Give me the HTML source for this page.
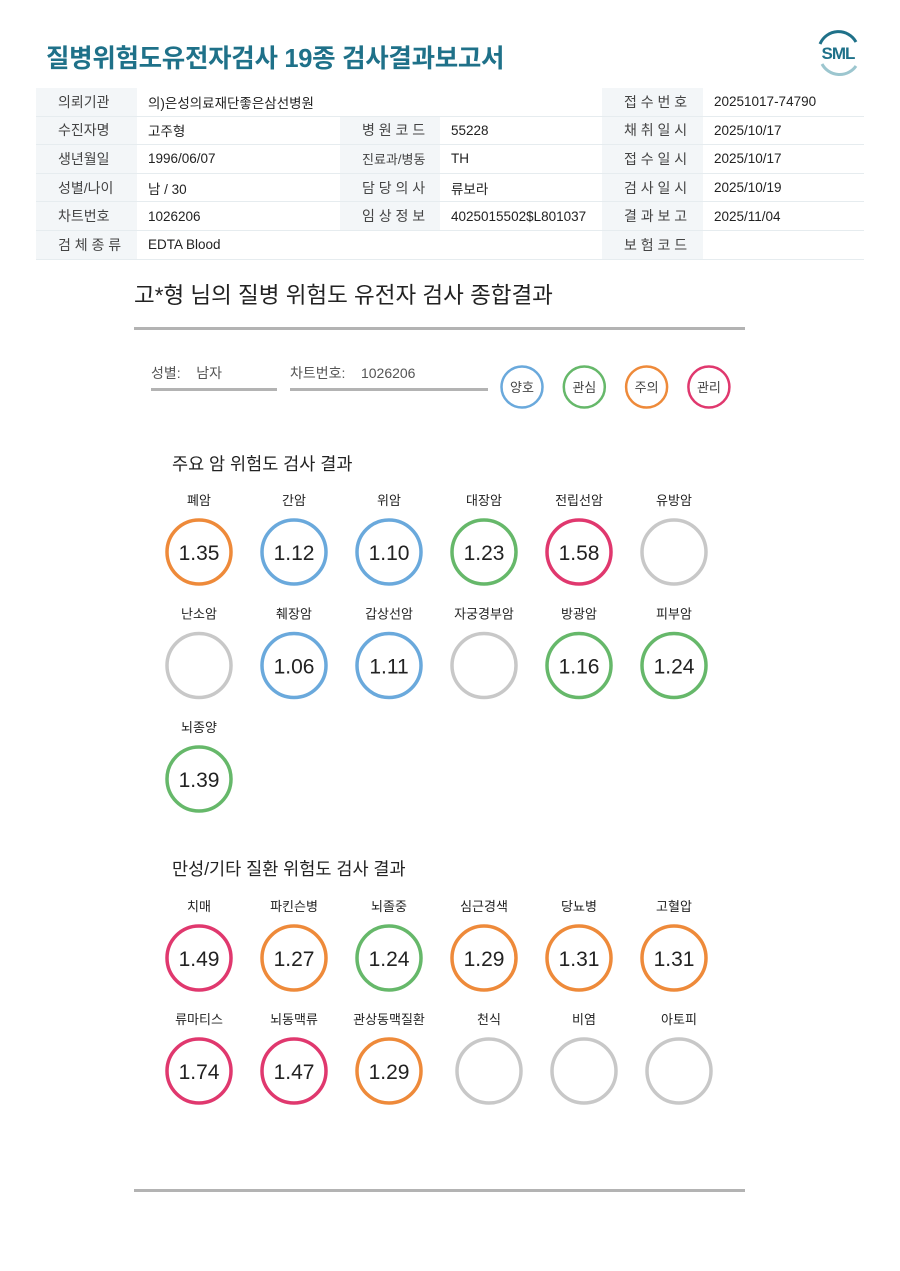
<!DOCTYPE html>
<html><head><meta charset="utf-8">
<style>
body{margin:0;width:900px;height:1271px;background:#fff;font-family:"Liberation Sans","Noto Sans CJK KR",sans-serif;position:relative;overflow:hidden}
.abs{position:absolute}
table{position:absolute;left:36px;top:88px;width:828px;border-collapse:collapse;font-size:13.5px;color:#222}
td{height:27.6px;padding:0;border-bottom:1px solid #e6ecef}
td.l{background:#f3f6f8;color:#444;padding-left:22px;font-size:14px}
td.v{padding-left:11px}
</style></head><body>
<div class="abs" style="left:46px;top:38px;font-size:25.5px;font-weight:bold;color:#1f7189;letter-spacing:-0.3px">질병위험도유전자검사 19종 검사결과보고서</div>
<svg class="abs" style="left:812px;top:28px" width="52" height="50">
<path d="M8 16 A20 20 0 0 1 44 14" fill="none" stroke="#1f7189" stroke-width="3"/>
<path d="M10 36 A20 20 0 0 0 44 38" fill="none" stroke="#9cc6cf" stroke-width="3"/>
<text x="26" y="31" text-anchor="middle" font-size="17" font-weight="bold" fill="#1f7189" font-family="Liberation Sans" letter-spacing="-1">SML</text></svg>
<table>
<tr><td class="l" style="width:79px">의뢰기관</td><td class="v" colspan="3">의)은성의료재단좋은삼선병원</td><td class="l" style="width:79px">접 수 번 호</td><td class="v">20251017-74790</td></tr>
<tr><td class="l">수진자명</td><td class="v" style="width:192px">고주형</td><td class="l" style="width:78px">병 원 코 드</td><td class="v" style="width:151px">55228</td><td class="l">채 취 일 시</td><td class="v">2025/10/17</td></tr>
<tr><td class="l">생년월일</td><td class="v">1996/06/07</td><td class="l" style="font-size:13px">진료과/병동</td><td class="v">TH</td><td class="l">접 수 일 시</td><td class="v">2025/10/17</td></tr>
<tr><td class="l">성별/나이</td><td class="v">남 / 30</td><td class="l">담 당 의 사</td><td class="v">류보라</td><td class="l">검 사 일 시</td><td class="v">2025/10/19</td></tr>
<tr><td class="l">차트번호</td><td class="v">1026206</td><td class="l">임 상 정 보</td><td class="v">4025015502$L801037</td><td class="l">결 과 보 고</td><td class="v">2025/11/04</td></tr>
<tr><td class="l">검 체 종 류</td><td class="v" colspan="3">EDTA Blood</td><td class="l">보 험 코 드</td><td class="v"></td></tr>
</table>
<div class="abs" style="left:134px;top:278px;font-size:22.5px;color:#222">고*형 님의 질병 위험도 유전자 검사 종합결과</div>
<div class="abs" style="left:134px;top:327px;width:611px;height:3px;background:#b3b3b3"></div>
<div class="abs" style="left:151px;top:363px;width:126px;border-bottom:3px solid #b3b3b3;font-size:14px;color:#555;padding-bottom:5px">성별: &nbsp;&nbsp; 남자</div>
<div class="abs" style="left:290px;top:363px;width:198px;border-bottom:3px solid #b3b3b3;font-size:14px;color:#555;padding-bottom:5px">차트번호: &nbsp;&nbsp; 1026206</div>
<svg class="abs" id="chart" style="left:0;top:0" width="900" height="1271"></svg>
<div class="abs" style="left:172px;top:451px;font-size:17.5px;color:#222">주요 암 위험도 검사 결과</div>
<div class="abs" style="left:172px;top:856px;font-size:17.5px;color:#222">만성/기타 질환 위험도 검사 결과</div>
<div class="abs" style="left:134px;top:1189px;width:611px;height:3px;background:#b3b3b3"></div>
<script>
const legendLabels=["양호","관심","주의","관리"];
const cancerNames=["폐암","간암","위암","대장암","전립선암","유방암","난소암","췌장암","갑상선암","자궁경부암","방광암","피부암","뇌종양"];
const cancerValues=[1.35,1.12,1.10,1.23,1.58,null,null,1.06,1.11,null,1.16,1.24,1.39];
const cancerLevels=[2,0,0,1,3,-1,-1,0,0,-1,1,1,1];
const chronicNames=["치매","파킨슨병","뇌졸중","심근경색","당뇨병","고혈압","류마티스","뇌동맥류","관상동맥질환","천식","비염","아토피"];
const chronicValues=[1.49,1.27,1.24,1.29,1.31,1.31,1.74,1.47,1.29,null,null,null];
const chronicLevels=[3,2,1,2,2,2,3,3,2,-1,-1,-1];
const colors=["#6aa9dc","#66b86a","#ee8a3a","#e0386e"];
const NS="http://www.w3.org/2000/svg";
const svg=document.getElementById('chart');
function mk(t,a){const e=document.createElementNS(NS,t);for(const k in a)e.setAttribute(k,a[k]);svg.appendChild(e);return e;}
legendLabels.forEach((l,i)=>{
 const c=mk('circle',{cx:522+i*62.3,cy:387,r:20.5,fill:'none',stroke:colors[i],'stroke-width':2.5});
 
 
 const t=mk('text',{x:522+i*62.3,y:392,'text-anchor':'middle','font-size':13,fill:'#444'});
 t.textContent=l;
 
 
});
function grid(names,vals,levels,top,rowH,prefix,shiftFrom){
 names.forEach((n,i)=>{
  const r=Math.floor(i/6),c=i%6;
  const cx=199+c*95, cy=top+r*rowH;
  const ccx=cx+(i>=shiftFrom?5:0);
  const lb=mk('text',{x:ccx,y:cy-47,'text-anchor':'middle','font-size':13,fill:'#222'});
  lb.textContent=n;
  
  
  const col=levels[i]<0?'#c8c8c8':colors[levels[i]];
  const ci=mk('circle',{cx:ccx,cy:cy,r:32,fill:'none',stroke:col,'stroke-width':3.5});
  
  
  if(vals[i]!=null){
   const v=mk('text',{x:ccx,y:cy+8,'text-anchor':'middle','font-size':21,fill:'#222'});
   v.textContent=vals[i].toFixed(2);
   
   
  }
 });
}
grid(cancerNames,cancerValues,cancerLevels,552,113.5,'cancer',99);
grid(chronicNames,chronicValues,chronicLevels,958,113,'chronic',9);
</script>
</body></html>
